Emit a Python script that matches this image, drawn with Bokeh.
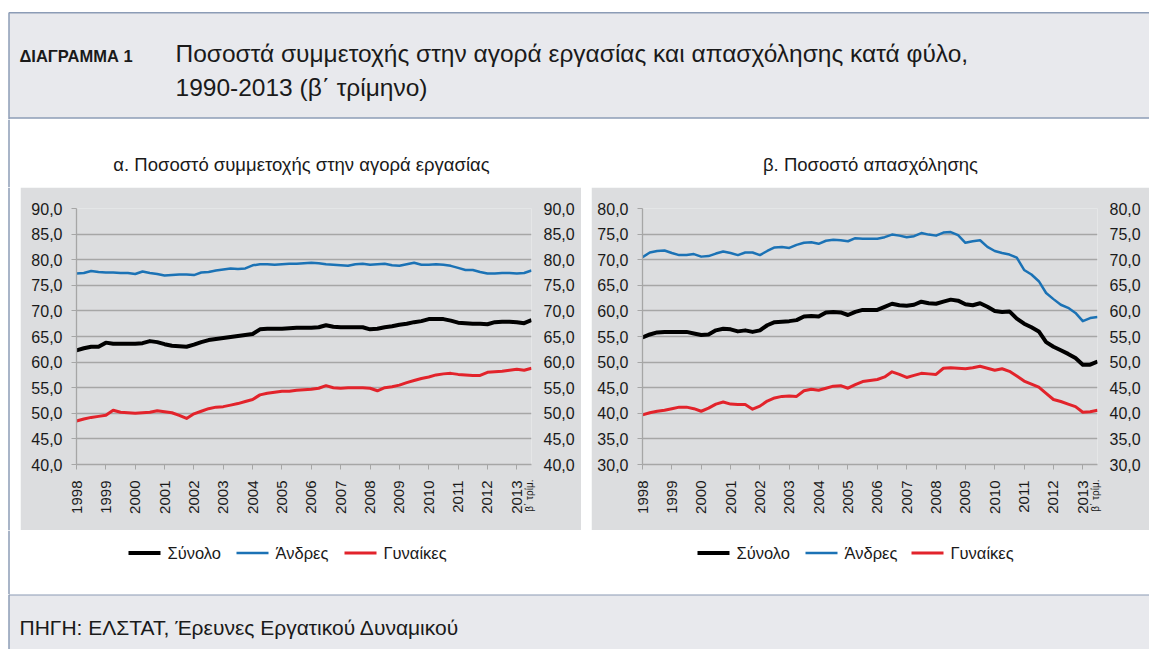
import math
import numpy as np
from bokeh.plotting import figure
from bokeh.models import Range1d, FixedTicker, CustomJSTickFormatter, LinearAxis
from bokeh.layouts import column, row
from bokeh.embed import file_html
from bokeh.resources import INLINE
from bokeh.core.properties import value

# ---------------- data (quarterly, 1998 Q1 ... ) ----------------
years = list(range(1998, 2014))
n_quarters = 63

left_total = [62.3, 62.7, 63.0, 63.0, 63.8, 63.6, 63.6, 63.6, 63.6, 63.7,
              64.1, 63.9, 63.5, 63.2, 63.1, 63.0, 63.4, 63.9, 64.3, 64.5,
              64.7, 64.9, 65.1, 65.3, 65.5, 66.4, 66.5, 66.5, 66.5, 66.6,
              66.7, 66.7, 66.7, 66.8, 67.2, 66.9, 66.8, 66.8, 66.8, 66.8,
              66.4, 66.5, 66.8, 67.0, 67.3, 67.5, 67.8, 68.0, 68.4, 68.4,
              68.4, 68.1, 67.7, 67.6, 67.5, 67.5, 67.4, 67.8, 67.9, 67.9,
              67.8, 67.6, 68.2]
left_men = [77.3, 77.4, 77.8, 77.6, 77.5, 77.5, 77.4, 77.4, 77.2, 77.7,
            77.4, 77.2, 76.9, 77.0, 77.1, 77.1, 77.0, 77.5, 77.6, 77.9,
            78.1, 78.3, 78.2, 78.3, 78.9, 79.1, 79.1, 79.0, 79.1, 79.2,
            79.2, 79.3, 79.4, 79.3, 79.1, 79.0, 78.9, 78.8, 79.1, 79.2,
            79.0, 79.1, 79.2, 78.9, 78.8, 79.1, 79.4, 79.0, 79.0, 79.1,
            79.0, 78.8, 78.4, 78.0, 78.0, 77.6, 77.3, 77.3, 77.4, 77.4,
            77.3, 77.4, 77.9]
left_women = [48.5, 48.9, 49.2, 49.4, 49.6, 50.6, 50.2, 50.1, 50.0, 50.1,
              50.2, 50.5, 50.3, 50.1, 49.6, 49.0, 49.9, 50.4, 50.9, 51.2,
              51.3, 51.6, 51.9, 52.3, 52.7, 53.6, 53.9, 54.1, 54.3, 54.3,
              54.5, 54.6, 54.7, 54.9, 55.4, 55.0, 54.9, 55.0, 55.0, 55.0,
              54.9, 54.4, 55.0, 55.2, 55.5, 56.0, 56.4, 56.8, 57.1, 57.5,
              57.7, 57.8, 57.6, 57.5, 57.4, 57.4, 58.0, 58.1, 58.2, 58.4,
              58.6, 58.4, 58.8]

right_total = [54.8, 55.4, 55.8, 55.9, 55.9, 55.9, 55.9, 55.6, 55.3, 55.4,
               56.2, 56.5, 56.4, 56.0, 56.2, 55.9, 56.2, 57.2, 57.8, 57.9,
               58.0, 58.2, 58.9, 59.0, 58.9, 59.7, 59.8, 59.7, 59.2, 59.8,
               60.2, 60.2, 60.2, 60.8, 61.4, 61.1, 61.0, 61.2, 61.8, 61.5,
               61.4, 61.8, 62.2, 62.0, 61.3, 61.1, 61.5, 60.8, 60.0, 59.8,
               59.9, 58.5, 57.5, 56.8, 56.0, 53.9, 53.0, 52.3, 51.6, 50.8,
               49.5, 49.5, 50.1]
right_men = [70.5, 71.4, 71.7, 71.8, 71.3, 70.9, 70.9, 71.1, 70.6, 70.7,
             71.2, 71.6, 71.3, 70.9, 71.4, 71.4, 70.9, 71.7, 72.4, 72.5,
             72.3, 72.9, 73.3, 73.4, 73.1, 73.7, 73.9, 73.8, 73.6, 74.2,
             74.1, 74.1, 74.1, 74.4, 74.9, 74.7, 74.4, 74.6, 75.2, 74.9,
             74.7, 75.3, 75.4, 74.8, 73.3, 73.6, 73.8, 72.5, 71.7, 71.3,
             71.0, 70.4, 68.0, 67.1, 65.8, 63.5, 62.3, 61.2, 60.6, 59.6,
             58.0, 58.6, 58.8]
right_women = [39.7, 40.1, 40.4, 40.6, 40.9, 41.2, 41.2, 40.9, 40.4, 41.0,
               41.8, 42.2, 41.8, 41.7, 41.7, 40.8, 41.4, 42.4, 43.0, 43.3,
               43.4, 43.3, 44.4, 44.7, 44.5, 44.9, 45.3, 45.4, 44.9, 45.6,
               46.2, 46.4, 46.6, 47.1, 48.1, 47.6, 47.0, 47.4, 47.8, 47.7,
               47.6, 48.8, 48.9, 48.8, 48.7, 48.9, 49.2, 48.8, 48.4, 48.7,
               48.2, 47.3, 46.3, 45.7, 45.1, 43.9, 42.7, 42.3, 41.8, 41.3,
               40.2, 40.3, 40.6]

series_names = ["Σύνολο", "Άνδρες", "Γυναίκες"]
title_label = "ΔΙΑΓΡΑΜΜΑ 1"
title_line1 = "Ποσοστά συμμετοχής στην αγορά εργασίας και απασχόλησης κατά φύλο,"
title_line2 = "1990-2013 (β΄ τρίμηνο)"
sub_left = "α. Ποσοστό συμμετοχής στην αγορά εργασίας"
sub_right = "β. Ποσοστό απασχόλησης"
last_tick_note = "β΄ τρίμ."
source_text = "ΠΗΓΗ: ΕΛΣΤΑΤ, Έρευνες Εργατικού Δυναμικού"

quarter_x = [1998 + i / 4 for i in range(n_quarters)]

# ---------------- styles ----------------
FONT = "Liberation Sans"
TXT = "#1a1a1a"
BLACK = "#000000"
BLUE = "#1b72b5"
RED = "#e2232b"
GRID = "#a6a6a6"
PANEL = "#dcdddf"
BAND = "#e8e9ed"
BORDER = "#8c9cb6"
COLORS = [BLACK, BLUE, RED]
WIDTHS = [4, 2.5, 3]
W = 1149


def deco(w, h, x0, y0):
    p = figure(width=w, height=h, x_range=Range1d(x0, x0 + w),
               y_range=Range1d(y0 + h, y0), x_axis_type=None, y_axis_type=None,
               toolbar_location=None, output_backend="svg", min_border=0,
               outline_line_color=None, background_fill_color="white",
               border_fill_color="white", frame_align=False)
    return p


def left_border(p, y0, y1):
    p.segment(x0=[8.5], y0=[y0], x1=[8.5], y1=[y1], line_color=BORDER, line_width=1.5)


def txt(p, x, y, s, size, **kw):
    p.text(x=x, y=y, text=s, text_font=value(FONT), text_font_size=size,
           text_color=TXT, text_baseline="middle", **kw)


# header
hdr = deco(W, 119, 0, 0)
hdr.quad(left=[8.5], right=[W], top=[12.3], bottom=[117.6], fill_color=BAND, line_color=None)
hdr.segment(x0=[8.5, 8.5], y0=[12.3, 117.6], x1=[W, W], y1=[12.3, 117.6],
            line_color=BORDER, line_width=1.5)
left_border(hdr, 12, 119)
txt(hdr, [19], [55.5], [title_label], "16.5px", text_font_style="bold")
txt(hdr, [175, 175], [53, 86.5], [title_line1, title_line2], "24.5px")

# subtitles
sub = deco(W, 68, 0, 119)
left_border(sub, 119, 187)
txt(sub, [301, 870], [163.5, 163.5], [sub_left, sub_right], "18.5px", text_align="center")


def chart(w, mb_left, mb_right, ylo, yhi, data):
    p = figure(width=w, height=343, x_range=Range1d(1998, 2013.5),
               y_range=Range1d(ylo, yhi), toolbar_location=None,
               output_backend="svg", background_fill_color=PANEL,
               border_fill_color=PANEL, outline_line_color=None,
               min_border_left=mb_left, min_border_right=mb_right,
               min_border_top=21, min_border_bottom=66)
    p.xgrid.visible = False
    p.ygrid.grid_line_color = GRID
    p.ygrid.grid_line_width = 1.3
    p.yaxis.ticker = FixedTicker(ticks=list(range(ylo, yhi + 1, 5)))
    p.yaxis.formatter = CustomJSTickFormatter(code="return tick.toFixed(1).replace('.', ',');")
    for ax in p.yaxis:
        ax.axis_line_color = GRID
        ax.axis_line_width = 1.3
        ax.major_tick_line_color = GRID
        ax.major_tick_out = 5
        ax.major_tick_in = 0
        ax.minor_tick_line_color = None
        ax.major_label_standoff = 9
        ax.major_label_text_font = FONT
        ax.major_label_text_font_size = "16px"
        ax.major_label_text_color = TXT
    rax = LinearAxis(ticker=FixedTicker(ticks=list(range(ylo, yhi + 1, 5))),
                     formatter=CustomJSTickFormatter(code="return tick.toFixed(1).replace('.', ',');"),
                     axis_line_color=None, major_tick_line_color=None,
                     minor_tick_line_color=None, major_tick_out=0, major_tick_in=0,
                     major_label_standoff=12, major_label_text_font=FONT,
                     major_label_text_font_size="16px", major_label_text_color=TXT)
    p.add_layout(rax, "right")
    xa = p.xaxis[0]
    xa.ticker = FixedTicker(ticks=years)
    xa.major_label_orientation = math.pi / 2
    xa.axis_line_color = GRID
    xa.axis_line_width = 1.3
    xa.major_tick_line_color = GRID
    xa.major_tick_out = 5
    xa.major_tick_in = 0
    xa.minor_tick_line_color = None
    xa.major_label_standoff = 11
    xa.major_label_text_font = FONT
    xa.major_label_text_font_size = "15px"
    xa.major_label_text_color = TXT
    # small "β΄ τρίμ." note beside the last year label: a second, bare axis
    p.extra_x_ranges = {"note": Range1d(0, 100)}
    nax = LinearAxis(x_range_name="note", ticker=FixedTicker(ticks=[99.6]),
                     major_label_overrides={99.6: last_tick_note},
                     major_label_orientation=math.pi / 2,
                     axis_line_color=None, major_tick_line_color=None,
                     minor_tick_line_color=None, major_tick_out=0, major_tick_in=0,
                     major_label_standoff=-37, major_label_text_font=FONT,
                     major_label_text_font_size="10px", major_label_text_color=TXT)
    p.add_layout(nax, "below")
    for vals, c, lw in zip(data, COLORS, WIDTHS):
        p.line(quarter_x, vals, line_color=c, line_width=lw, line_join="round")
    return p


left = chart(561, 56, 50, 40, 90, [left_total, left_men, left_women])
right = chart(558, 51, 52, 30, 80, [right_total, right_men, right_women])

spL = deco(20, 343, 0, 187)
left_border(spL, 187, 530)
gap = deco(10, 343, 581, 187)

# legend strip
leg = deco(W, 64, 0, 530)
left_border(leg, 530, 594)
for starts in ([128, 236, 344], [697, 805, 911]):
    for s, c, lw, name in zip(starts, COLORS, WIDTHS, series_names):
        leg.segment(x0=[s], y0=[552.5], x1=[s + 32], y1=[552.5], line_color=c, line_width=lw)
        txt(leg, [s + 39], [552.5], [name], "16.5px")

# footer
foot = deco(W, 55, 0, 594)
foot.quad(left=[8.5], right=[W], top=[594.3], bottom=[649], fill_color=BAND, line_color=None)
foot.segment(x0=[8.5], y0=[594.3], x1=[W], y1=[594.3], line_color=BORDER, line_width=1.5)
left_border(foot, 594, 649)
txt(foot, [19], [627], [source_text], "21px")

layout = column(hdr, sub, row(spL, left, gap, right), leg, foot)

open("out.html", "w").write(file_html(layout, INLINE))
